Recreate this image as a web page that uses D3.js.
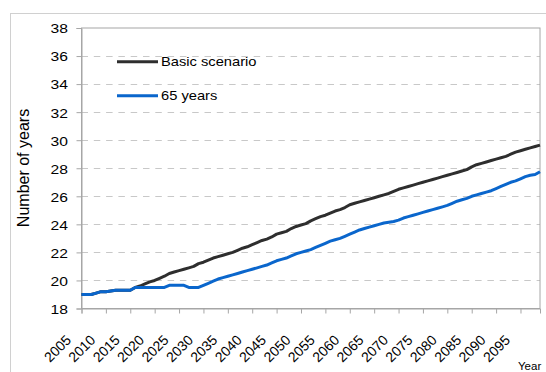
<!DOCTYPE html>
<html><head><meta charset="utf-8">
<script src="https://cdn.jsdelivr.net/npm/d3@7"></script>
<style>body{margin:0;background:#fff}svg{display:block}text{font-family:"Liberation Sans",Arial,sans-serif;fill:#000}</style>
</head><body><svg id="c" width="546" height="372"></svg>
<script>
const years = d3.range(2005, 2100);
const basic = [19.0,19.0,19.0,19.1,19.2,19.2,19.25,19.3,19.3,19.3,19.3,19.5,
 19.6,19.75,19.9,20.0,20.15,20.3,20.5,20.6,20.7,20.8,20.9,21.0,21.2,21.3,21.45,21.6,21.7,21.8,21.9,22.0,22.15,22.3,22.4,22.55,22.7,22.85,22.95,23.1,
 23.3,23.4,23.5,23.7,23.85,23.95,24.05,24.25,24.4,24.55,24.65,24.8,24.95,25.05,25.2,25.4,25.5,25.6,25.7,25.8,25.9,26.0,26.1,26.2,26.35,
 26.5,26.6,26.7,26.8,26.9,27.0,27.1,27.2,27.3,27.4,27.5,27.6,27.7,27.8,27.9,28.1,28.25,28.35,28.45,28.55,28.65,28.75,28.85,29.0,29.15,
 29.25,29.35,29.45,29.55,29.65];
const age65 = [19.0,19.0,19.0,19.1,19.2,19.2,19.25,19.3,19.3,19.3,19.3,19.5,
 19.5,19.5,19.5,19.5,19.5,19.5,19.65,19.65,19.65,19.65,19.5,19.5,19.5,19.65,19.8,19.95,20.1,20.2,20.3,20.4,20.5,20.6,20.7,20.8,20.9,21.0,21.1,21.25,
 21.4,21.5,21.6,21.75,21.9,22.0,22.1,22.2,22.35,22.5,22.65,22.8,22.9,23.0,23.15,23.3,23.45,23.6,23.7,23.8,23.9,24.0,24.1,24.15,24.2,
 24.3,24.45,24.55,24.65,24.75,24.85,24.95,25.05,25.15,25.25,25.35,25.5,25.65,25.75,25.85,26.0,26.1,26.2,26.3,26.4,
 26.55,26.7,26.85,27.0,27.1,27.25,27.4,27.5,27.55,27.75];
const seriesNames = ["Basic scenario", "65 years"];
const seriesColors = ["#2e2e2e", "#0a66cc"];
const yTicks = [18,20,22,24,26,28,30,32,34,36,38];
const xTicks = d3.range(2005, 2100, 5);

const svg = d3.select("#c");
const L = 81.5, R = 540, T = 28, B = 308.5;
const x = d3.scaleLinear().domain([2005, 2099]).range([L, R]);
const y = d3.scaleLinear().domain([18, 38]).range([B, T]);
const SX = 1.16;

svg.append("rect").attr("x",10.5).attr("y",13.5).attr("width",600).attr("height",400)
  .attr("fill","none").attr("stroke","#d0d0d0");

// gridlines
svg.append("g").selectAll("line").data(yTicks.filter(v=>v>18 && v<38)).join("line")
  .attr("x1",L).attr("x2",R).attr("y1",d=>Math.round(y(d))+0.5).attr("y2",d=>Math.round(y(d))+0.5)
  .attr("stroke","#c8c8c8").attr("stroke-dasharray","6.5,5.8");
svg.append("rect").attr("x",L).attr("y",T).attr("width",R-L).attr("height",B-T)
  .attr("fill","none").attr("stroke","#a6a6a6");

// y axis
const ya = svg.append("g").attr("transform",`translate(${L},0)`)
  .call(d3.axisLeft(y).tickValues(yTicks).tickSize(5).tickPadding(8).tickFormat(d3.format("d")));
ya.select(".domain").attr("stroke","#a6a6a6");
ya.selectAll(".tick line").attr("stroke","#a6a6a6");
ya.selectAll(".tick text").attr("font-size",13.5).attr("fill","#000")
  .attr("font-family","Liberation Sans, Arial, sans-serif")
  .attr("x",0).attr("dy","0.36em")
  .attr("transform", `translate(-13.5,0) scale(${SX},1)`);

// x axis
const xa = svg.append("g").attr("transform",`translate(0,${B})`)
  .call(d3.axisBottom(x).tickValues(xTicks).tickSize(5).tickFormat(d3.format("d")));
xa.select(".domain").attr("stroke","#a6a6a6");
xa.selectAll(".tick line").attr("stroke","#a6a6a6");
xa.selectAll(".tick text").attr("font-size",14).attr("fill","#000")
  .attr("font-family","Liberation Sans, Arial, sans-serif")
  .attr("text-anchor","end").attr("dy","0.35em").attr("y",0)
  .attr("transform",`translate(-13.5,29) rotate(-45)`);

// lines
const line = d3.line().x((d,i)=>x(years[i])).y(d=>y(d));
[basic, age65].forEach((s,k)=>{
  svg.append("path").datum(s).attr("d",line).attr("fill","none")
    .attr("stroke",seriesColors[k]).attr("stroke-width",3).attr("stroke-linejoin","round");
});

// legend
const lg = svg.append("g");
seriesNames.forEach((n,k)=>{
  const ly = [61.7,95.7][k];
  lg.append("line").attr("x1",117).attr("x2",158).attr("y1",ly).attr("y2",ly)
    .attr("stroke",seriesColors[k]).attr("stroke-width",3);
  lg.append("text").attr("x",0).attr("y",0).attr("dy","0.33em").attr("font-size",13)
    .attr("transform",`translate(161,${ly}) scale(1.13,1)`).text(n);
});

// titles
svg.append("text").attr("transform",`translate(29,168) rotate(-90)`).attr("text-anchor","middle")
  .attr("font-size",16).text("Number of years");
svg.append("text").attr("transform",`translate(518,370)`).attr("font-size",11.5).text("Year");
</script></body></html>
